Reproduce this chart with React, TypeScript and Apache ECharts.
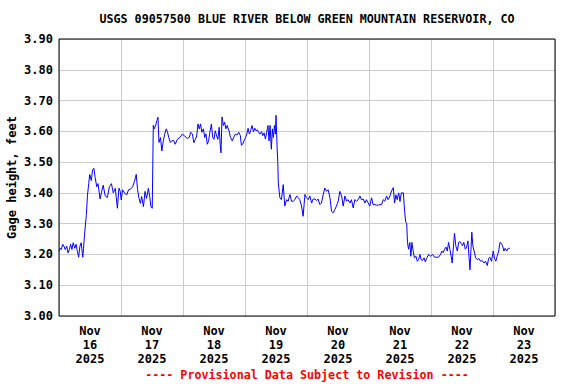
import { useEffect, useRef } from "react";
import * as echarts from "echarts";

const chartTitle = "USGS 09057500 BLUE RIVER BELOW GREEN MOUNTAIN RESERVOIR, CO";
const yAxisTitle = "Gage height, feet";
const footnote = "---- Provisional Data Subject to Revision ----";
const monthLabel = "Nov";
const yearLabel = "2025";
const dayLabels = ["16", "17", "18", "19", "20", "21", "22", "23"];
const yMin = 3.0;
const yMax = 3.9;
const yStep = 0.1;
const hoursPerDay = 24;

// [hours since Nov 16 00:00, gage height in feet]
const readings: [number, number][] = [
  [0, 3.211], [0.4, 3.22], [0.9, 3.216], [1.4, 3.233], [1.9, 3.227], [2.4, 3.216], [3.0, 3.227], [3.5, 3.205],
  [4.0, 3.216], [4.5, 3.233], [5.0, 3.216], [5.5, 3.238], [6.1, 3.22], [6.6, 3.233], [7.1, 3.211], [7.6, 3.191],
  [8.1, 3.227], [8.6, 3.238], [9.2, 3.191], [9.5, 3.22], [9.9, 3.266],
  [10.6, 3.33], [11.0, 3.39], [11.5, 3.43], [11.9, 3.46], [12.5, 3.44], [13.0, 3.475], [13.5, 3.48], [14.0, 3.45],
  [14.6, 3.42], [15.1, 3.43], [15.9, 3.38], [16.4, 3.40], [17.1, 3.425], [17.9, 3.39], [18.7, 3.385], [19.5, 3.42],
  [20.3, 3.43], [21.0, 3.40], [21.8, 3.415], [22.6, 3.35], [23.2, 3.415], [23.7, 3.405],
  [24.1, 3.377], [24.6, 3.41], [25.4, 3.40], [26.2, 3.393], [26.9, 3.41], [27.7, 3.412], [28.5, 3.42], [29.2, 3.437],
  [29.9, 3.46], [30.4, 3.41], [31.0, 3.382], [31.5, 3.366], [32.0, 3.388], [32.7, 3.355], [33.3, 3.405], [33.9, 3.382],
  [34.6, 3.415], [35.1, 3.388], [35.6, 3.355], [36.1, 3.35], [36.5, 3.62], [36.9, 3.608], [37.4, 3.62], [37.9, 3.635],
  [38.3, 3.646], [38.7, 3.564], [39.3, 3.58], [39.8, 3.536], [40.4, 3.57], [40.9, 3.59], [41.5, 3.608], [42.0, 3.597],
  [42.5, 3.58], [43.1, 3.564], [43.7, 3.57], [44.4, 3.57], [45.0, 3.558],
  [45.8, 3.574], [46.8, 3.58], [47.7, 3.591], [48.6, 3.585], [49.7, 3.577], [50.4, 3.58], [51.0, 3.597], [51.6, 3.592],
  [52.2, 3.563], [52.8, 3.574], [53.3, 3.585], [53.8, 3.624], [54.3, 3.608], [54.8, 3.624], [55.3, 3.597], [55.9, 3.608],
  [56.4, 3.58], [56.9, 3.592], [57.4, 3.558], [57.9, 3.569], [58.4, 3.597], [59.0, 3.624], [59.5, 3.58], [60.0, 3.574],
  [60.5, 3.602], [61.0, 3.585], [61.5, 3.574], [62.0, 3.613], [62.4, 3.558], [62.7, 3.53], [63.1, 3.647], [63.6, 3.619],
  [64.1, 3.63], [64.6, 3.608], [65.1, 3.619], [65.8, 3.602], [66.4, 3.58], [67.1, 3.569],
  [67.6, 3.58], [68.3, 3.591], [68.9, 3.588], [69.6, 3.597], [70.2, 3.586], [70.6, 3.555], [71.1, 3.558], [71.6, 3.569],
  [72.2, 3.58], [72.7, 3.591], [73.2, 3.61], [73.7, 3.591], [74.2, 3.602], [74.7, 3.619], [75.3, 3.599], [75.8, 3.61],
  [76.3, 3.602], [76.8, 3.605], [77.3, 3.597], [77.8, 3.591], [78.4, 3.599], [78.9, 3.586], [79.4, 3.595], [79.9, 3.575],
  [80.4, 3.597], [80.9, 3.619], [81.3, 3.569], [81.7, 3.619], [82.2, 3.542], [82.6, 3.608], [83.0, 3.58], [83.4, 3.619],
  [83.8, 3.591], [84.0, 3.652], [84.4, 3.553], [84.7, 3.498], [84.9, 3.432],
  [85.5, 3.384], [86.1, 3.378], [86.8, 3.427], [87.4, 3.357], [88.1, 3.378], [88.7, 3.373], [89.4, 3.395], [90.0, 3.373],
  [90.7, 3.373], [91.3, 3.378], [92.0, 3.39], [92.6, 3.384], [93.2, 3.378], [93.9, 3.357], [94.5, 3.324], [95.2, 3.395],
  [95.8, 3.384], [96.5, 3.378], [97.1, 3.39], [97.8, 3.367], [98.4, 3.38], [99.1, 3.38], [99.7, 3.375], [100.3, 3.38],
  [101.0, 3.362], [101.6, 3.367], [102.3, 3.395], [102.9, 3.416], [103.6, 3.405], [104.2, 3.41], [104.9, 3.384], [105.5, 3.34],
  [106.1, 3.335], [106.8, 3.346], [107.4, 3.357], [108.1, 3.373], [108.7, 3.405], [109.4, 3.39], [110.0, 3.357], [110.7, 3.39],
  [111.3, 3.373], [111.9, 3.378], [112.6, 3.367], [113.2, 3.378], [113.9, 3.351], [114.5, 3.378], [115.2, 3.373], [115.8, 3.378],
  [116.5, 3.39], [117.1, 3.378], [117.8, 3.38], [118.4, 3.367], [119.0, 3.378], [119.7, 3.367], [120.3, 3.357], [121.0, 3.384],
  [121.6, 3.362], [122.3, 3.362], [122.9, 3.36], [123.6, 3.36], [124.2, 3.362], [124.9, 3.362], [125.5, 3.378], [126.1, 3.373],
  [126.8, 3.39], [127.4, 3.378], [128.1, 3.39],
  [128.7, 3.406], [129.4, 3.417], [129.9, 3.367], [130.4, 3.394], [130.9, 3.378], [131.5, 3.40], [132.0, 3.372], [132.5, 3.40],
  [133.3, 3.40], [133.8, 3.339], [134.2, 3.306], [134.6, 3.30], [134.9, 3.239], [135.3, 3.217], [135.8, 3.239], [136.2, 3.194],
  [136.6, 3.239], [137.1, 3.211], [137.6, 3.189], [138.2, 3.194], [138.7, 3.178], [139.2, 3.183], [139.7, 3.20], [140.2, 3.183],
  [140.7, 3.18], [141.3, 3.189], [141.8, 3.176], [142.3, 3.187], [143.1, 3.20], [143.8, 3.194], [144.6, 3.20], [145.4, 3.191],
  [146.2, 3.191], [146.9, 3.191], [147.7, 3.20], [148.2, 3.211], [148.7, 3.206], [149.3, 3.217], [149.8, 3.224], [150.3, 3.211],
  [150.8, 3.239], [151.3, 3.217], [151.8, 3.194], [152.2, 3.172], [152.6, 3.217], [153.1, 3.269], [153.6, 3.228], [154.2, 3.211],
  [154.7, 3.239], [155.2, 3.242], [155.7, 3.236], [156.2, 3.228], [156.7, 3.239], [157.3, 3.217], [157.8, 3.224], [158.3, 3.244],
  [158.7, 3.194], [159.1, 3.15], [159.5, 3.222], [159.8, 3.272], [160.2, 3.228], [160.7, 3.211], [161.3, 3.189], [161.9, 3.183],
  [162.5, 3.187], [163.2, 3.178], [163.8, 3.18], [164.5, 3.172], [165.1, 3.178], [165.8, 3.164], [166.3, 3.187], [166.8, 3.191],
  [167.4, 3.178], [168.1, 3.211], [168.6, 3.187], [169.1, 3.178], [169.6, 3.194], [170.2, 3.211], [170.7, 3.239], [171.2, 3.236],
  [171.7, 3.228], [172.2, 3.211], [172.7, 3.22], [173.3, 3.211], [173.9, 3.22], [174.5, 3.22],
];

const FONT = "'DejaVu Sans Mono', monospace";

export default function App() {
  const ref = useRef<HTMLDivElement>(null);

  useEffect(() => {
    document.body.style.margin = "0";
    if (!ref.current) return;
    const chart = echarts.init(ref.current, null, { renderer: "svg" });
    const W = 576;
    const H = 384;
    const gl = 59, gr = 21, gt = 39, gb = 68;
    const categories = dayLabels.map((d) => `${monthLabel}\n${d}\n${yearLabel}`);
    chart.setOption({
      animation: false,
      backgroundColor: "#ffffff",
      grid: {
        left: gl,
        right: gr,
        top: gt,
        bottom: gb,
        containLabel: false,
        outerBoundsMode: "none",
      },
      xAxis: [
        {
          type: "value",
          min: 0,
          max: dayLabels.length * hoursPerDay,
          show: false,
        },
        {
          type: "category",
          data: categories,
          boundaryGap: true,
          position: "bottom",
          axisLine: { show: false },
          axisTick: { show: false },
          splitLine: { show: true, lineStyle: { color: "#cccccc", width: 1 } },
          axisLabel: {
            color: "#000",
            fontFamily: FONT,
            fontWeight: "bold",
            fontSize: 12,
            lineHeight: 14,
            margin: 8,
            interval: 0,
          },
        },
      ],
      yAxis: {
        type: "value",
        min: yMin,
        max: yMax,
        interval: yStep,
        name: yAxisTitle,
        nameLocation: "middle",
        nameGap: 41,
        nameMoveOverlap: false,
        nameTextStyle: { color: "#000", fontFamily: FONT, fontWeight: "bold", fontSize: 12 },
        axisLine: { show: false },
        axisTick: { show: false },
        splitLine: { show: true, lineStyle: { color: "#cccccc", width: 1 } },
        axisLabel: {
          color: "#000",
          fontFamily: FONT,
          fontWeight: "bold",
          fontSize: 12,
          margin: 6,
          formatter: (v: number) => v.toFixed(2),
        },
      },
      series: [
        {
          type: "line",
          xAxisIndex: 0,
          data: readings,
          showSymbol: false,
          symbol: "none",
          lineStyle: { color: "#0000ff", width: 1 },
          z: 5,
        },
      ],
      graphic: [
        {
          type: "rect",
          shape: { x: gl, y: gt, width: W - gl - gr, height: H - gt - gb },
          style: { fill: "none", stroke: "#000", lineWidth: 1 },
          z: 100,
          silent: true,
        },
        {
          type: "text",
          x: (gl + W - gr) / 2,
          y: 19,
          style: {
            text: chartTitle,
            fill: "#000",
            font: `bold 11.7px ${FONT}`,
            textAlign: "center",
            textVerticalAlign: "middle",
          },
        },
        {
          type: "text",
          x: (gl + W - gr) / 2,
          y: 375,
          style: {
            text: footnote,
            fill: "#ff0000",
            font: `bold 11.7px ${FONT}`,
            textAlign: "center",
            textVerticalAlign: "middle",
          },
        },
      ],
    });
    return () => chart.dispose();
  }, []);

  return <div ref={ref} style={{ width: 576, height: 384 }} />;
}
